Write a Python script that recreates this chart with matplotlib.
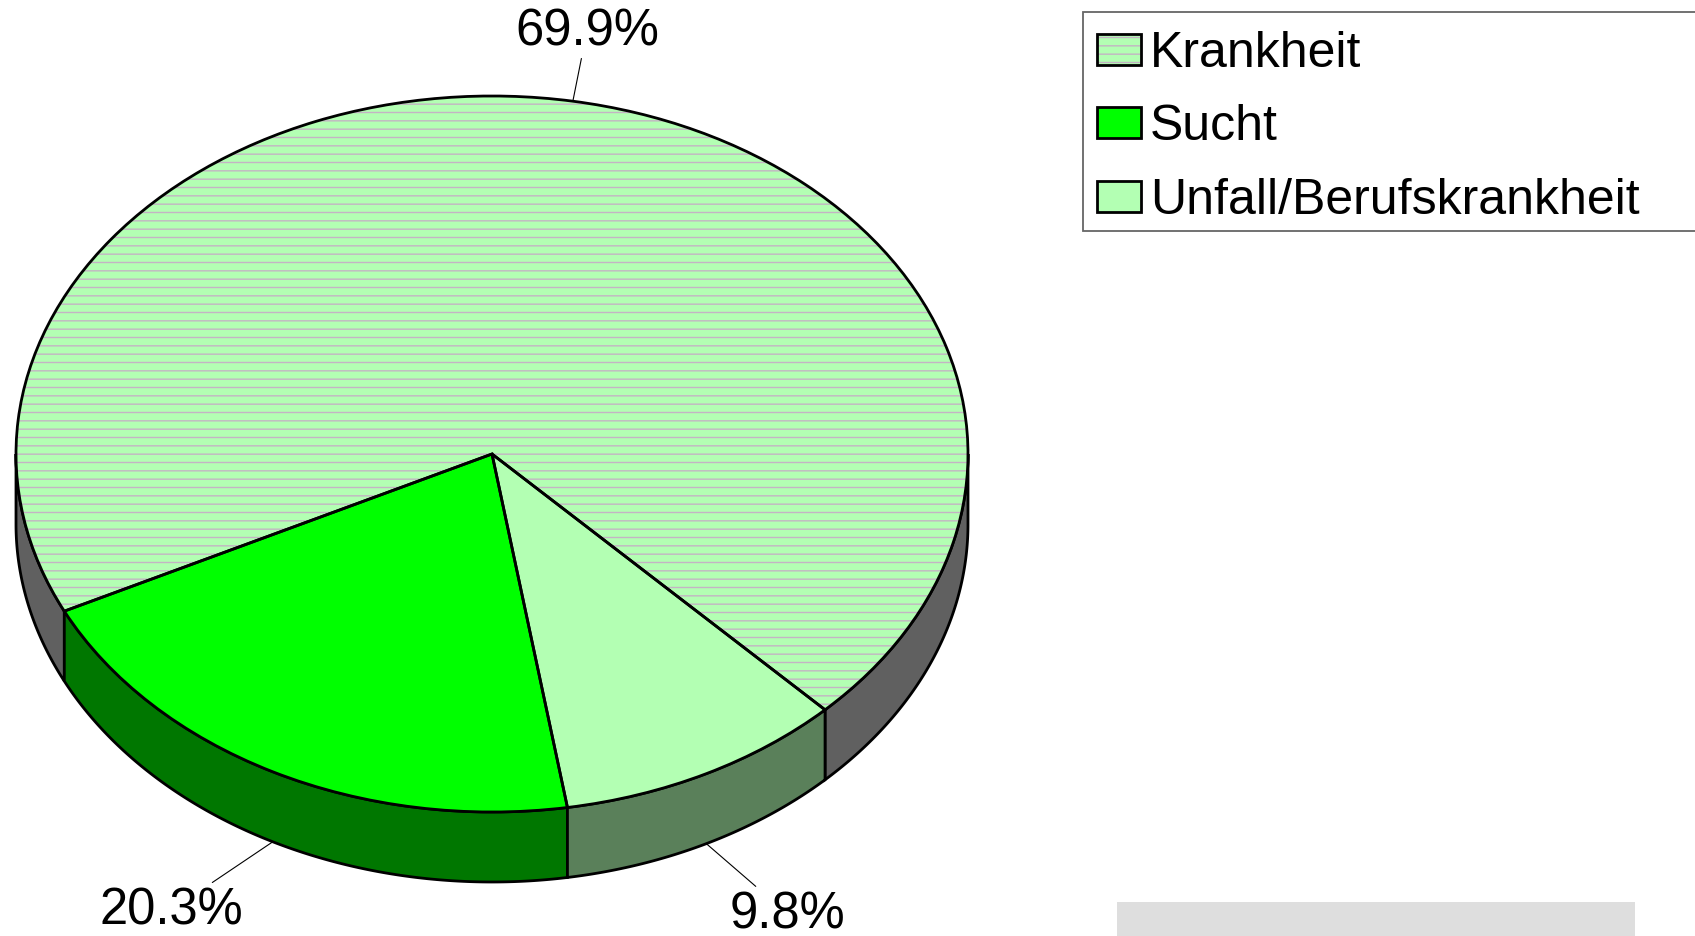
import numpy as np
import matplotlib.pyplot as plt
from matplotlib.patches import Polygon, Rectangle

plt.rcParams['font.family'] = ['Liberation Sans', 'DejaVu Sans']
plt.rcParams['hatch.linewidth'] = 1.0

# data
labels = ["Krankheit", "Sucht", "Unfall/Berufskrankheit"]
shares = [69.9, 20.3, 9.8]
top_colors = ["#b3ffb3", "#00ff00", "#b3ffb3"]
side_colors = ["#606060", "#007700", "#5a805a"]
hatches = ["--", "", ""]
label_offsets = [(14, 70), (-101, -68), (81, -70)]  # pixels from slice edge

W, H = 1695, 937
fig = plt.figure(figsize=(W / 100, H / 100), dpi=100)

# pie geometry in pixels
cx, cy, rx, ry, depth = 492, 455, 476, 358, 70
d = depth / ry
ax = fig.add_axes([(cx - rx) / W, (H - (cy + ry + depth)) / H,
                   2 * rx / W, (2 * ry + depth) / H])
start = 314.4

# top face: fill + hatch, then black outlines
wedges, _ = ax.pie(shares, startangle=start, counterclock=True,
                   colors=top_colors, wedgeprops=dict(linewidth=0))
for w, h in zip(wedges, hatches):
    if h:
        w.set_hatch(h)
        w.set_edgecolor("#c4b4c4")
outlines, _ = ax.pie(shares, startangle=start, counterclock=True,
                     wedgeprops=dict(facecolor="none", edgecolor="black",
                                     linewidth=2))
for w in list(wedges) + list(outlines):
    w.set_clip_on(False)

# side walls of the front half
bounds = start + 360 * np.concatenate([[0], np.cumsum(shares)]) / sum(shares)
for i in range(len(shares)):
    a0, a1 = bounds[i], bounds[i + 1]
    for k in range(-1, 3):
        lo, hi = max(a0, 180 + 360 * k), min(a1, 360 + 360 * k)
        if hi <= lo:
            continue
        t = np.radians(np.linspace(lo, hi, 200))
        xs = np.cos(t)
        ys = np.sin(t)
        pts = np.column_stack([np.r_[xs, xs[::-1]], np.r_[ys, ys[::-1] - d]])
        ax.add_patch(Polygon(pts, closed=True, facecolor=side_colors[i],
                             edgecolor="black", linewidth=2, zorder=0.5,
                             clip_on=False))

# percentage labels with leader lines
for i, v in enumerate(shares):
    m = np.radians((bounds[i] + bounds[i + 1]) / 2)
    px, py = np.cos(m), np.sin(m)
    if py < 0:
        py -= d
    ax.annotate(f"{v:.1f}%", xy=(px, py), xytext=label_offsets[i],
                textcoords="offset pixels", ha="center", va="center",
                fontsize=36.5,
                arrowprops=dict(arrowstyle="-", color="black", lw=0.8,
                                shrinkA=0, shrinkB=0))

ax.set_xlim(-1, 1)
ax.set_ylim(-1 - d, 1)
ax.set_aspect("auto")
ax.axis("off")

# overlay in pixel units for legend and footer box
ov = fig.add_axes([0, 0, 1, 1], zorder=-1)
ov.set_xlim(0, W)
ov.set_ylim(H, 0)
ov.axis("off")
ov.add_patch(Rectangle((1083, 13), 700, 219, facecolor="white",
                       edgecolor="#666666", linewidth=1.3))
row_y = [51, 124, 198]
for lab, col, h, y in zip(labels, top_colors, hatches, row_y):
    ov.add_patch(Rectangle((1097, y - 16), 44, 31, facecolor=col,
                           edgecolor="#c4b4c4" if h else col, hatch=h or None,
                           linewidth=0))
    ov.add_patch(Rectangle((1097, y - 16), 44, 31, facecolor="none",
                           edgecolor="black", linewidth=2))
    ov.text(1150, y + 3, lab, fontsize=36, va="center", ha="left")
ov.add_patch(Rectangle((1117, 903), 518, 40, facecolor="#dedede",
                       edgecolor="none"))

fig.savefig("out.png", dpi=100)
